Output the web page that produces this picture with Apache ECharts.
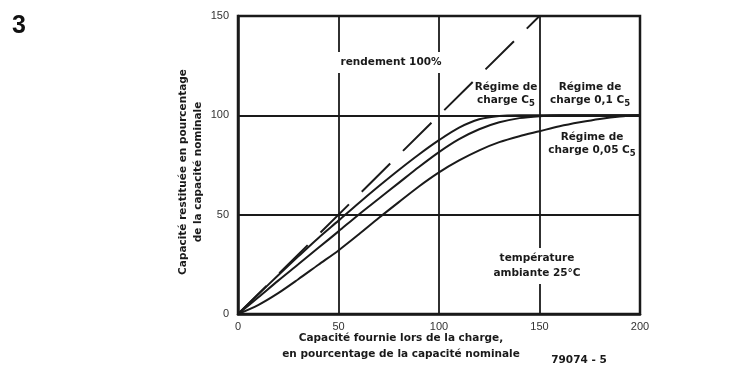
<!DOCTYPE html>
<html>
<head>
<meta charset="utf-8">
<script src="https://cdn.jsdelivr.net/npm/echarts@6/dist/echarts.min.js"></script>
<style>
  html, body { margin: 0; padding: 0; background: #fff; }
  #chart { width: 750px; height: 377px; }
</style>
</head>
<body>
<div id="chart"></div>
<script>
// Capacité fournie (% de la capacité nominale)
const chargeSupplied = [0, 10, 20, 30, 40, 50, 60, 70, 80, 90, 100, 110, 120, 130, 140, 150, 160, 170, 180, 190, 200];
// Capacité restituée (%) pour chaque régime de charge
const returnedC5 = [0, 9.8, 19.5, 29, 38.3, 47, 55.8, 64.3, 72.5, 80.3, 87.5, 93.8, 98, 99.7, 100, 100, 100, 100, 100, 100, 100];
const returned01C5 = [0, 8.3, 16.8, 25, 33.3, 41.6, 50, 58, 66, 74, 81.5, 88, 93, 96.5, 98.6, 99.6, 100, 100, 100, 100, 100];
const returned005C5 = [0, 4.5, 10.5, 17.5, 24.8, 32, 40, 48.3, 56.3, 64.2, 71.3, 77.3, 82.4, 86.5, 89.5, 92, 94.5, 96.5, 98.2, 99.4, 100];
// Droite de rendement 100 %
const idealX = [0, 150];
const idealY = [0, 150];
// Graduations
const xTicks = [0, 50, 100, 150, 200];
const yTicks = [0, 50, 100, 150];

const ink = '#1a1a1a';
const titleFont = 'DejaVu Sans, Verdana, sans-serif';
const tickFont = 'Liberation Sans, Arial, sans-serif';
const fs = 10.5;
const pairs = (xs, ys) => xs.map((x, i) => [x, ys[i]]);

const chart = echarts.init(document.getElementById('chart'), null, { renderer: 'canvas' });

const curve = (name, ys) => ({
  name: name,
  type: 'line',
  data: pairs(chargeSupplied, ys),
  showSymbol: false,
  smooth: 0.3,
  lineStyle: { color: ink, width: 2 },
  z: 5
});

const block = (cx, top, lines, bg) => ({
  type: 'text',
  x: cx,
  y: top,
  z: 20,
  style: {
    text: lines,
    align: 'center',
    verticalAlign: 'top',
    fontFamily: titleFont,
    fontWeight: 'bold',
    fontSize: fs,
    lineHeight: 15,
    fill: ink,
    backgroundColor: bg || 'transparent',
    padding: bg ? [3, 4] : 0,
    rich: {
      m: { fontFamily: titleFont, fontWeight: 'bold', fontSize: fs, lineHeight: 13, verticalAlign: 'top', fill: ink },
      s: { fontFamily: titleFont, fontWeight: 'bold', fontSize: 8.5, lineHeight: 9, padding: [7, 0, 0, 0], verticalAlign: 'bottom', fill: ink }
    }
  }
});

chart.setOption({
  animation: false,
  backgroundColor: '#fff',
  grid: {
    left: 238, right: 110, top: 16, bottom: 63,
    show: true, borderColor: ink, borderWidth: 2.5, backgroundColor: 'transparent'
  },
  xAxis: {
    type: 'value',
    min: xTicks[0], max: xTicks[xTicks.length - 1], interval: 50,
    axisLine: { show: true, lineStyle: { color: ink, width: 2.5 } },
    axisTick: { show: false },
    axisLabel: { color: '#333', fontSize: 11, fontFamily: tickFont, margin: 7 },
    splitLine: { show: true, lineStyle: { color: ink, width: 1.8 } }
  },
  yAxis: {
    type: 'value',
    min: yTicks[0], max: yTicks[yTicks.length - 1], interval: 50,
    axisLine: { show: true, lineStyle: { color: ink, width: 2.5 } },
    axisTick: { show: false },
    axisLabel: { color: '#333', fontSize: 11, fontFamily: tickFont, margin: 9 },
    splitLine: { show: true, lineStyle: { color: ink, width: 1.8 } }
  },
  series: [
    {
      name: 'rendement 100%',
      type: 'line',
      data: pairs(idealX, idealY),
      showSymbol: false,
      lineStyle: { color: ink, width: 2, type: [40, 18] },
      z: 4
    },
    curve('Régime de charge C5', returnedC5),
    curve('Régime de charge 0,1 C5', returned01C5),
    curve('Régime de charge 0,05 C5', returned005C5)
  ],
  graphic: [
    { type: 'text', x: 12, y: 14, style: { text: '3', fontFamily: 'Liberation Sans, Arial, sans-serif', fontWeight: 'bold', fontSize: 25, fill: '#111' } },
    {
      type: 'text', x: 401, y: 330, z: 20,
      style: {
        text: 'Capacité fournie lors de la charge,\nen pourcentage de la capacité nominale',
        align: 'center', verticalAlign: 'top',
        fontFamily: titleFont, fontWeight: 'bold', fontSize: fs, lineHeight: 16, fill: ink
      }
    },
    {
      type: 'text', x: 579, y: 355,
      style: { text: '79074 - 5', align: 'center', verticalAlign: 'top', fontFamily: titleFont, fontWeight: 'bold', fontSize: fs, fill: ink }
    },
    {
      type: 'text', x: 176, y: 172, rotation: Math.PI / 2, z: 20,
      style: {
        text: 'Capacité restituée en pourcentage\nde la capacité nominale',
        align: 'center', verticalAlign: 'top',
        fontFamily: titleFont, fontWeight: 'bold', fontSize: fs, lineHeight: 15, fill: ink
      }
    },
    block(391, 52, 'rendement 100%', '#fff'),
    block(506, 80, 'Régime de\n{m|charge C}{s|5}'),
    block(590, 80, 'Régime de\n{m|charge 0,1 C}{s|5}'),
    block(592, 130, 'Régime de\n{m|charge 0,05 C}{s|5}'),
    block(537, 248, 'température\nambiante 25°C', '#fff')
  ]
});
</script>
</body>
</html>
